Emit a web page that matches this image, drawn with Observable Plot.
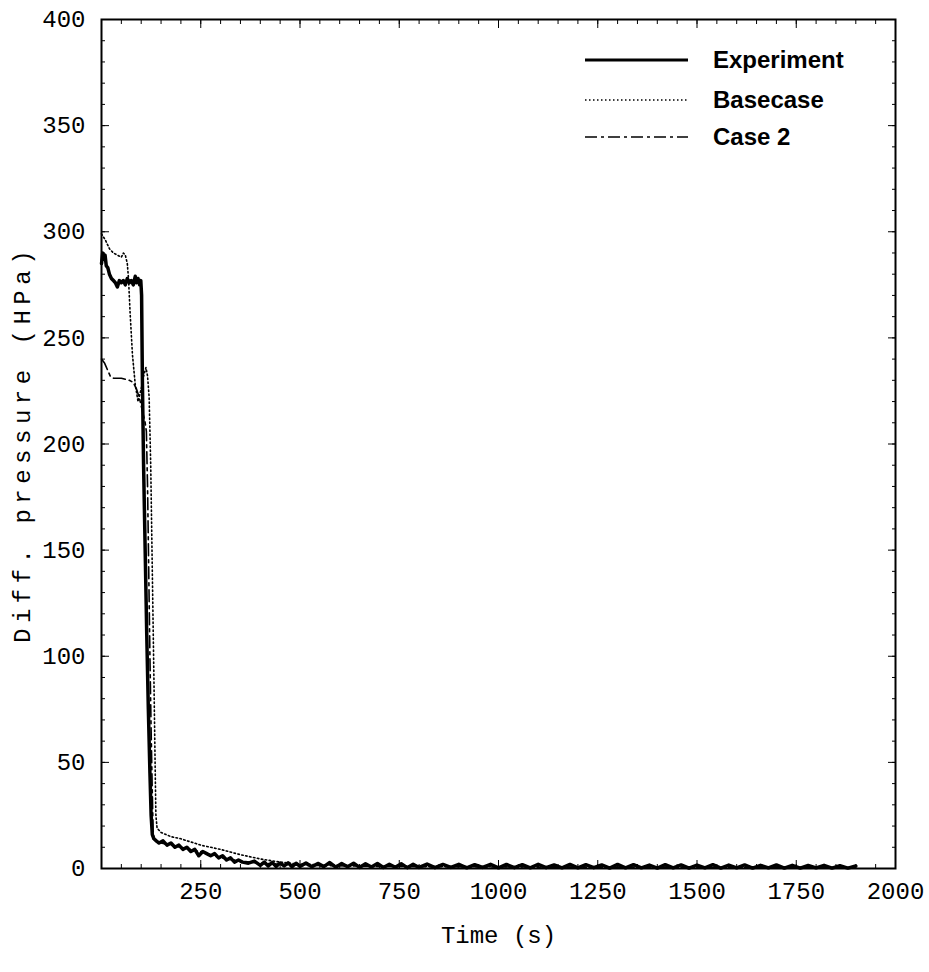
<!DOCTYPE html>
<html><head><meta charset="utf-8">
<script src="https://cdn.jsdelivr.net/npm/d3@7"></script>
<script src="https://cdn.jsdelivr.net/npm/@observablehq/plot@0.6"></script>
<style>body{margin:0;background:#fff}</style>
</head><body><div id="chart"></div>
<script>
// ---- data ----
const seriesNames = ["Experiment", "Basecase", "Case 2"];
const expT = [0,3,6,9,12,16,20,25,30,35,40,45,50,55,60,65,70,75,80,85,88,92,96,99,101,103,106,110,114,118,122,125,128,132,138,145,155,165,175,185,195,205,215,225,235,245,255,265,275,285,295,305,315,325,335,345,355,370,385,400,410,420,430,440,450,460,470,480,490,500,515,530,545,560,575,590,605,620,635,650,665,680,695,710,725,740,755,770,785,800,820,840,860,880,900,920,940,960,980,1000,1020,1040,1060,1080,1100,1120,1140,1160,1180,1200,1220,1240,1260,1280,1300,1320,1340,1360,1380,1400,1420,1440,1460,1480,1500,1520,1540,1560,1580,1600,1620,1640,1660,1680,1700,1720,1740,1760,1780,1800,1820,1840,1860,1880,1900];
const expP = [285,290,287,289,284,283,280,278,277,276,274,277,276,277,275,278,276,277,275,279,276,278,275,277,270,230,190,150,110,75,45,25,16,14,13,12,13,11,12,10,11,9,10,8,9,6,8,7,6,7,5,6,4,5,3,4,3,2.5,3.5,1.5,3,1.2,2.8,1,2.6,1.2,2.7,0.8,2.5,1,2.6,0.8,2.4,0.9,2.8,0.6,2.3,0.8,2.5,0.5,2.2,0.7,2.4,0.5,2,0.6,2.2,0.4,2,0.5,2.1,0.4,1.9,0.5,2,0.3,1.8,0.5,2,0.3,1.9,0.4,1.8,0.3,2,0.4,1.7,0.3,1.9,0.3,1.8,0.4,1.7,0.2,1.9,0.3,1.8,0.3,1.6,0.2,1.8,0.3,1.7,0.2,1.6,0.3,1.8,0.2,1.6,0.3,1.7,0.2,1.5,0.3,1.7,0.2,1.5,0.2,1.4,0.3,1.5,0.2,1.3,0.2,1.2,0.3,1,0.3];
const baseT = [0,10,20,30,40,50,55,60,65,68,72,78,85,92,100,106,112,116,120,124,128,132,135,137,140,150,175,200,250,300,350,400,450,500,600,800,1000,1500,1900];
const baseP = [299,296,292,290,289,288,290,289,285,278,262,242,228,220,226,232,236,232,222,190,140,90,50,25,19,17,15,14,11,9,6.5,4.5,3,2,1.5,1,0.8,0.6,0.5];
const case2T = [0,8,15,22,30,50,70,80,88,95,100,105,110,113,116,119,122,125,128,130,133,150,200,250,300,350,400,500,700,1000,1500,1900];
const case2P = [240,238,235,232,231,231,230,229,226,222,218,214,210,206,180,140,100,65,35,18,13,12,10,8,5,3.5,2.5,1.5,1,0.7,0.5,0.4];
const xTicks = [250,500,750,1000,1250,1500,1750,2000];
const yTicks = [0,50,100,150,200,250,300,350,400];
const xLabel = "Time (s)";
const yLabel = "Diff. pressure (HPa)";

const toRows = (T, P, name) => T.map((t, i) => ({t, p: P[i], series: name}));
const expRows = toRows(expT, expP, seriesNames[0]);
const baseRows = toRows(baseT, baseP, seriesNames[1]);
const case2Rows = toRows(case2T, case2P, seriesNames[2]);

const mono = "'Liberation Mono', 'Courier New', monospace";
const styles = {
  "Experiment": {strokeWidth: 3.5, dash: null},
  "Basecase": {strokeWidth: 1.6, dash: "1.5,2.5"},
  "Case 2": {strokeWidth: 1.6, dash: "12,4,3,4"}
};

const chart = Plot.plot({
  width: 929, height: 972,
  marginLeft: 101, marginRight: 34, marginTop: 19, marginBottom: 104,
  style: {fontFamily: mono, fontSize: "24px", background: "white", color: "black", overflow: "visible"},
  x: {domain: [0, 2000]},
  y: {domain: [0, 400]},
  marks: [
    // inward ticks on all four sides
    Plot.axisX(d3.range(0, 2001, 50), {anchor: "bottom", tickSize: -4, tickFormat: () => "", label: null}),
    Plot.axisX(d3.range(0, 2001, 250), {anchor: "bottom", tickSize: -8, tickFormat: () => "", label: null}),
    Plot.axisX(d3.range(0, 2001, 50), {anchor: "top", tickSize: -4, tickFormat: () => "", label: null}),
    Plot.axisX(d3.range(0, 2001, 250), {anchor: "top", tickSize: -8, tickFormat: () => "", label: null}),
    Plot.axisY(d3.range(0, 401, 10), {anchor: "left", tickSize: -4, tickFormat: () => "", label: null}),
    Plot.axisY(d3.range(0, 401, 50), {anchor: "left", tickSize: -8, tickFormat: () => "", label: null}),
    Plot.axisY(d3.range(0, 401, 10), {anchor: "right", tickSize: -4, tickFormat: () => "", label: null}),
    Plot.axisY(d3.range(0, 401, 50), {anchor: "right", tickSize: -8, tickFormat: () => "", label: null}),
    // tick labels
    Plot.axisX(xTicks, {anchor: "bottom", tickSize: 0, tickPadding: 13, label: null, tickFormat: d => String(d)}),
    Plot.axisY(yTicks, {anchor: "left", tickSize: 0, tickPadding: 16, label: null, tickFormat: d => String(d)}),
    // series
    Plot.line(baseRows, {x: "t", y: "p", stroke: "black", strokeWidth: styles.Basecase.strokeWidth, strokeDasharray: styles.Basecase.dash}),
    Plot.line(case2Rows, {x: "t", y: "p", stroke: "black", strokeWidth: styles["Case 2"].strokeWidth, strokeDasharray: styles["Case 2"].dash}),
    Plot.line(expRows, {x: "t", y: "p", stroke: "black", strokeWidth: styles.Experiment.strokeWidth, strokeLinejoin: "round"}),
    Plot.frame({stroke: "black", strokeWidth: 2}),
    // axis titles
    Plot.text([xLabel], {text: d => d, frameAnchor: "bottom", dy: 74, fontSize: 24}),
    Plot.text([yLabel], {text: d => d, frameAnchor: "left", textAnchor: "middle", dx: -79, rotate: -90, fontSize: 24})
  ]
});

// widen the rotated y title like the scanned original
d3.select(chart).selectAll("text").filter(function() { return this.textContent === yLabel; })
  .style("letter-spacing", "5.5px");

// legend drawn inside the svg
const leg = d3.select(chart).append("g").attr("class", "legend").attr("text-anchor", "start");
const legY = [60, 100, 137];
seriesNames.forEach((name, i) => {
  const s = styles[name];
  leg.append("line").attr("x1", 585).attr("x2", 688).attr("y1", legY[i]).attr("y2", legY[i])
    .attr("stroke", "black").attr("stroke-width", name === "Experiment" ? 2.8 : 1.6)
    .attr("stroke-dasharray", s.dash);
  leg.append("text").attr("x", 713).attr("y", legY[i]).attr("dy", "0.35em")
    .attr("text-anchor", "start")
    .attr("font-family", "'Liberation Sans', Arial, sans-serif").attr("font-weight", "bold")
    .attr("font-size", 24).attr("fill", "black").text(name);
});

document.getElementById("chart").appendChild(chart);
</script>
</body></html>
